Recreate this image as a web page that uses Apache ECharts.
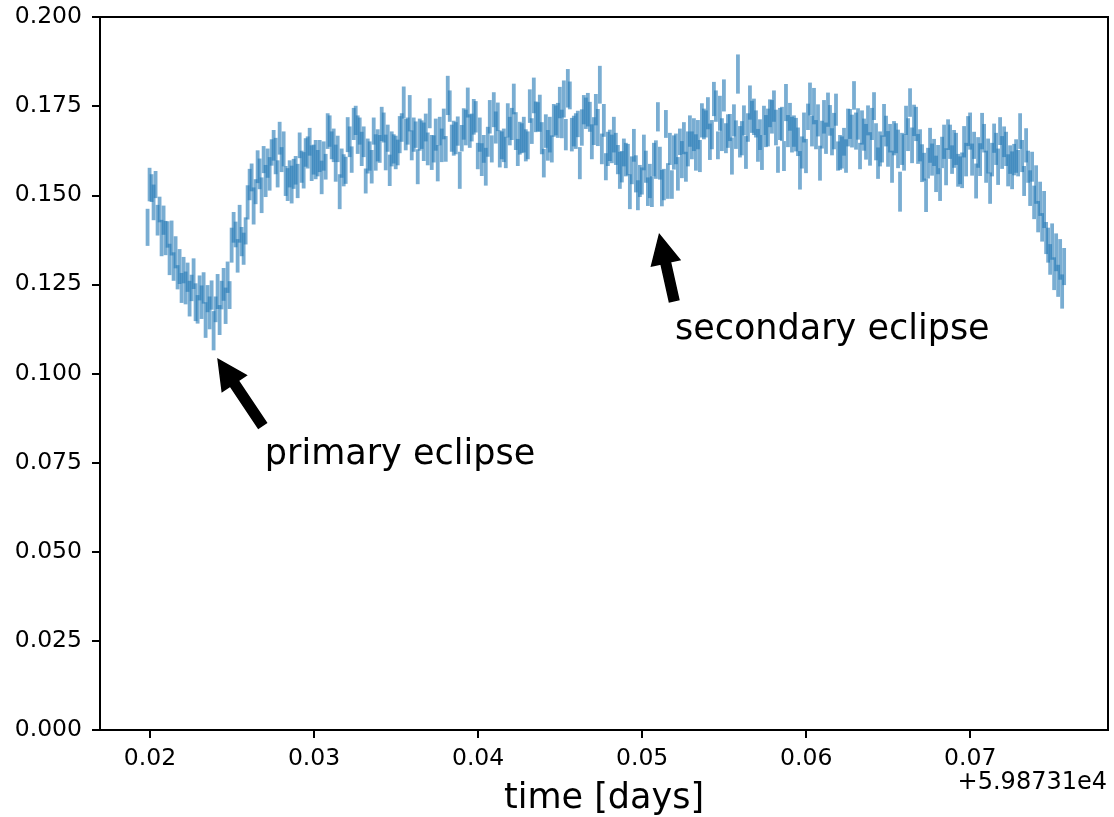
<!DOCTYPE html>
<html>
<head>
<meta charset="utf-8">
<script src="https://cdn.jsdelivr.net/npm/echarts@6/dist/echarts.min.js"></script>
<style>
html,body{margin:0;padding:0;background:#fff;}
#chart{width:1114px;height:817px;}
</style>
</head>
<body>
<div id="chart"></div>
<script>
// ---- data (time offsets in days relative to +5.98731e4) ----
const obsStart = 0.01985;      // first exposure time (offset)
const cadence = 0.000122;      // exposure cadence in days

const flux = [
.141,.153,.152,.148,.153,.143,.146,.138,.143,.138,.139,.132,.138,.130,.134,.127,.130,.124,.129,.124,
.127,.121,.124,.128,.120,.118,.124,.120,.124,.115,.121,.117,.122,.112,.118,.123,.115,.122,.125,.119,
.127,.122,.136,.141,.139,.133,.142,.137,.135,.140,.148,.153,.155,.147,.151,.158,.156,.150,.160,.154,
.159,.156,.162,.164,.161,.156,.166,.160,.163,.154,.153,.156,.153,.156,.157,.154,.164,.158,.157,.162,
.162,.165,.159,.160,.160,.159,.161,.155,.161,.158,.168,.168,.164,.164,.159,.163,.151,.159,.157,.157,
.167,.165,.160,.170,.171,.167,.168,.163,.165,.154,.161,.161,.158,.168,.162,.164,.163,.170,.169,.162,
.166,.157,.163,.163,.162,.162,.167,.169,.176,.167,.168,.173,.164,.167,.167,.158,.167,.167,.165,.169,
.163,.173,.162,.163,.167,.159,.168,.164,.170,.163,.178,.175,.166,.166,.166,.168,.157,.166,.170,.169,
.176,.168,.169,.172,.172,.161,.167,.160,.163,.158,.165,.172,.163,.174,.169,.172,.163,.164,.164,.162,
.171,.168,.170,.177,.168,.162,.166,.166,.167,.164,.164,.175,.168,.178,.172,.172,.173,.166,.159,.168,
.164,.167,.163,.171,.171,.171,.176,.170,.177,.167,.180,.178,.167,.168,.168,.170,.159,.169,.174,.173,
.174,.172,.165,.168,.174,.169,.181,.163,.171,.158,.163,.164,.163,.167,.163,.160,.157,.158,.162,.160,
.160,.151,.157,.164,.156,.150,.154,.154,.162,.158,.151,.154,.151,.160,.160,.172,.159,.152,.153,.170,
.154,.163,.153,.162,.163,.156,.165,.160,.166,.158,.163,.168,.164,.167,.162,.167,.161,.171,.170,.170,
.173,.165,.167,.177,.175,.164,.173,.167,.178,.166,.168,.169,.161,.171,.167,.184,.165,.166,.171,.162,
.169,.176,.172,.172,.170,.164,.167,.162,.171,.168,.169,.173,.172,.175,.169,.160,.170,.170,.161,.176,
.168,.172,.167,.168,.167,.165,.157,.162,.169,.161,.172,.177,.168,.175,.167,.171,.159,.167,.172,.166,
.174,.171,.165,.168,.174,.161,.162,.162,.165,.161,.169,.170,.168,.178,.168,.170,.161,.169,.167,.165,
.171,.163,.170,.175,.165,.159,.163,.163,.171,.168,.163,.166,.158,.166,.166,.163,.151,.163,.162,.171,
.167,.176,.164,.171,.170,.163,.164,.159,.158,.150,.159,.164,.160,.162,.156,.160,.153,.162,.165,.158,
.167,.165,.160,.163,.163,.157,.157,.157,.165,.160,.168,.168,.160,.164,.154,.162,.160,.168,.166,.158,
.161,.152,.160,.166,.163,.158,.168,.162,.165,.163,.157,.160,.157,.160,.161,.159,.168,.161,.154,.164,
.158,.152,.158,.148,.153,.144,.149,.141,.146,.138,.136,.132,.137,.128,.134,.126,.132,.123,.130
];

const fluxErr = [
.0052,.0047,.0039,.0050,.0038,.0043,.0036,.0051,.0041,.0048,.0037,.0044,.0049,.0040,.0045,.0034,.0049,.0042,.0037,.0046,
.0041,.0050,.0037,.0043,.0053,.0040,.0035,.0047,.0044,.0050,.0038,.0046,.0041,.0055,.0036,.0049,.0042,.0040,.0046,.0051,
.0044,.0039,.0049,.0043,.0036,.0047,.0053,.0041,.0045,.0038,.0048,.0044,.0039,.0052,.0035,.0046,.0043,.0050,.0038,.0045,
.0041,.0047,.0037,.0043,.0051,.0038,.0046,.0035,.0049,.0042,.0046,.0038,.0053,.0042,.0040,.0048,.0036,.0045,.0051,.0040,
.0045,.0039,.0050,.0042,.0055,.0037,.0045,.0047,.0041,.0036,.0050,.0044,.0039,.0047,.0052,.0037,.0049,.0041,.0045,.0038,
.0049,.0043,.0037,.0045,.0041,.0054,.0038,.0048,.0043,.0035,.0049,.0041,.0047,.0038,.0051,.0045,.0039,.0048,.0042,.0050,
.0038,.0044,.0049,.0041,.0047,.0036,.0052,.0040,.0045,.0044,.0038,.0051,.0042,.0048,.0037,.0049,.0045,.0040,.0054,.0039,
.0046,.0042,.0049,.0038,.0045,.0051,.0040,.0047,.0043,.0036,.0055,.0044,.0038,.0049,.0045,.0041,.0052,.0037,.0044,.0050,
.0042,.0047,.0039,.0050,.0044,.0037,.0048,.0046,.0039,.0053,.0042,.0047,.0038,.0049,.0045,.0040,.0052,.0039,.0047,.0044,
.0048,.0040,.0045,.0043,.0053,.0038,.0046,.0042,.0050,.0045,.0039,.0047,.0036,.0050,.0043,.0041,.0052,.0045,.0040,.0047,
.0043,.0050,.0038,.0046,.0042,.0049,.0044,.0040,.0052,.0044,.0054,.0039,.0047,.0043,.0050,.0037,.0045,.0051,.0041,.0044,
.0047,.0042,.0049,.0039,.0044,.0052,.0053,.0043,.0046,.0038,.0048,.0044,.0040,.0050,.0045,.0041,.0052,.0044,.0039,.0047,
.0044,.0049,.0039,.0046,.0052,.0042,.0045,.0038,.0050,.0045,.0040,.0048,.0043,.0047,.0054,.0041,.0046,.0051,.0044,.0039,
.0050,.0045,.0040,.0048,.0043,.0047,.0037,.0052,.0045,.0042,.0049,.0044,.0039,.0046,.0051,.0041,.0045,.0048,.0043,.0038,
.0045,.0051,.0041,.0048,.0044,.0039,.0049,.0046,.0045,.0042,.0047,.0038,.0052,.0045,.0040,.0055,.0044,.0048,.0042,.0046,
.0040,.0048,.0045,.0051,.0038,.0046,.0043,.0049,.0041,.0045,.0053,.0039,.0047,.0044,.0050,.0037,.0045,.0048,.0042,.0052,
.0045,.0039,.0050,.0044,.0047,.0040,.0054,.0045,.0042,.0048,.0037,.0046,.0043,.0051,.0041,.0045,.0049,.0039,.0047,.0044,
.0048,.0043,.0038,.0051,.0045,.0041,.0049,.0045,.0039,.0047,.0053,.0042,.0046,.0040,.0052,.0044,.0037,.0048,.0045,.0050,
.0042,.0047,.0045,.0039,.0052,.0044,.0049,.0038,.0046,.0043,.0050,.0040,.0045,.0048,.0042,.0054,.0056,.0045,.0051,.0041,
.0046,.0040,.0050,.0044,.0048,.0042,.0045,.0053,.0039,.0047,.0043,.0049,.0045,.0038,.0051,.0041,.0046,.0044,.0048,.0052,
.0043,.0048,.0040,.0053,.0045,.0046,.0039,.0050,.0044,.0047,.0042,.0052,.0045,.0038,.0049,.0043,.0046,.0051,.0040,.0045,
.0049,.0044,.0047,.0041,.0045,.0051,.0039,.0046,.0043,.0048,.0045,.0040,.0053,.0044,.0047,.0037,.0050,.0045,.0042,.0048,
.0045,.0050,.0042,.0047,.0054,.0044,.0048,.0040,.0052,.0045,.0049,.0043,.0051,.0046,.0053,.0045,.0057,.0048,.0052
];

const xTickValues = [0.02, 0.03, 0.04, 0.05, 0.06, 0.07];
const xOffsetLabel = '+5.98731e4';
const xAxisTitle = 'time [days]';

const annotationLabels = ['primary eclipse', 'secondary eclipse'];
const annotationTips = [[0.024, 0.105], [0.051, 0.14]];
const annotationTextAt = [[0.027, 0.075], [0.052, 0.11]];

// ---- build ----
const times = flux.map((_, i) => obsStart + i * cadence);
const points = flux.map((f, i) => [times[i], f, fluxErr[i]]);

const FONT = '"DejaVu Sans", "Liberation Sans", sans-serif';
const chart = echarts.init(document.getElementById('chart'), null, {renderer: 'canvas'});

chart.setOption({
  animation: false,
  backgroundColor: '#ffffff',
  textStyle: {fontFamily: FONT},
  grid: {left: 100, right: 6, top: 17, bottom: 87, containLabel: false, outerBoundsMode: 'none',
    show: true, borderColor: '#000', borderWidth: 2, backgroundColor: 'transparent'},
  xAxis: {
    type: 'value', min: 0.01695, max: 0.0784,
    splitLine: {show: false},
    axisLine: {show: false},
    axisTick: {show: true, length: 8, inside: false, customValues: xTickValues, lineStyle: {color: '#000', width: 2}},
    axisLabel: {customValues: xTickValues, margin: 17, fontSize: 23.5, color: '#000', fontFamily: FONT,
      formatter: v => v.toFixed(2)},
    name: xAxisTitle, nameLocation: 'middle', nameGap: 51,
    nameTextStyle: {fontSize: 35, color: '#000', fontFamily: FONT}
  },
  yAxis: {
    type: 'value', min: 0, max: 0.2, interval: 0.025,
    splitLine: {show: false},
    axisLine: {show: false},
    axisTick: {show: true, length: 8, inside: false, lineStyle: {color: '#000', width: 2}},
    axisLabel: {margin: 18, fontSize: 23.5, color: '#000', fontFamily: FONT,
      formatter: v => v.toFixed(3)}
  },
  series: [{
    type: 'custom',
    data: points,
    encode: {x: 0, y: 1},
    clip: true,
    renderItem: function (params, api) {
      const x = api.value(0), y = api.value(1), e = api.value(2);
      const p1 = api.coord([x, y - e]);
      const p2 = api.coord([x, y + e]);
      return {
        type: 'line',
        shape: {x1: p1[0], y1: p1[1], x2: p2[0], y2: p2[1]},
        style: {stroke: 'rgba(31,119,180,0.6)', lineWidth: 3.8, lineCap: 'butt'}
      };
    }
  }]
});

// annotations: arrows + labels, placed from data coordinates (matplotlib-like: arrow from
// the text box's nearest corner to the target point, shrunk 5% at both ends)
const graphics = [];
const shaftW = 9.7, headW = 29, headL = 29, fontPx = 35;
annotationLabels.forEach((label, k) => {
  const P = chart.convertToPixel({gridIndex: 0}, annotationTips[k]);
  const T = chart.convertToPixel({gridIndex: 0}, annotationTextAt[k]);
  const S = [T[0], T[1] - 33.5];
  const vx = S[0] - P[0], vy = S[1] - P[1];
  const tip = [P[0] + 0.05 * vx, P[1] + 0.05 * vy];
  const tail = [S[0] - 0.05 * vx, S[1] - 0.05 * vy];
  const dx = tip[0] - tail[0], dy = tip[1] - tail[1];
  const len = Math.hypot(dx, dy);
  const ux = dx / len, uy = dy / len;
  const nx = -uy, ny = ux;
  const base = [tip[0] - ux * headL, tip[1] - uy * headL];
  const pts = [
    [tail[0] + nx * shaftW / 2, tail[1] + ny * shaftW / 2],
    [base[0] + nx * shaftW / 2, base[1] + ny * shaftW / 2],
    [base[0] + nx * headW / 2, base[1] + ny * headW / 2],
    tip,
    [base[0] - nx * headW / 2, base[1] - ny * headW / 2],
    [base[0] - nx * shaftW / 2, base[1] - ny * shaftW / 2],
    [tail[0] - nx * shaftW / 2, tail[1] - ny * shaftW / 2]
  ];
  graphics.push({type: 'polygon', shape: {points: pts}, style: {fill: '#000', stroke: '#000', lineWidth: 1.5}, z: 10});
  graphics.push({type: 'text', x: T[0], y: T[1] - 8, z: 10,
    style: {text: label, font: fontPx + 'px ' + FONT, fill: '#000', textAlign: 'left', textVerticalAlign: 'middle'}});
});
graphics.push({type: 'text', x: 1107, y: 783, z: 10,
  style: {text: xOffsetLabel, font: '24px ' + FONT, fill: '#000', textAlign: 'right', textVerticalAlign: 'middle'}});
chart.setOption({graphic: graphics});
</script>
</body>
</html>
